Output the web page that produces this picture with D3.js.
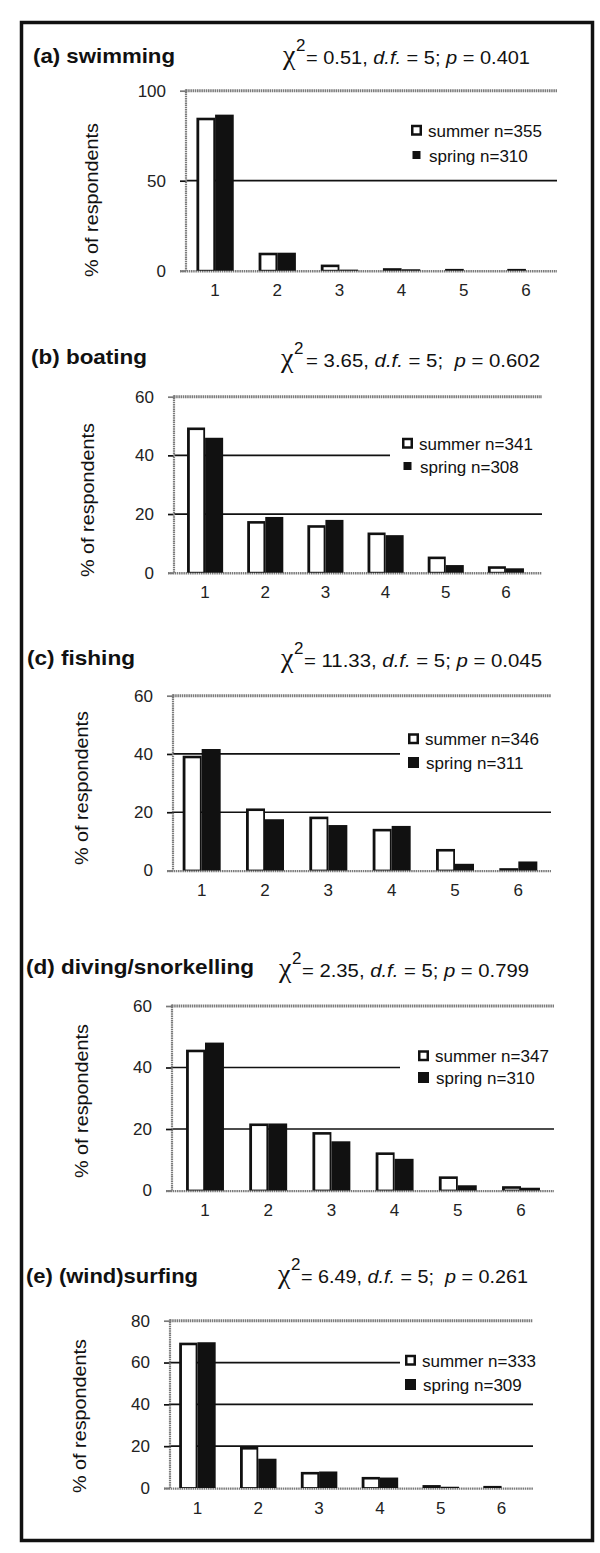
<!DOCTYPE html>
<html><head><meta charset="utf-8">
<script src="https://cdn.jsdelivr.net/npm/d3@7"></script>
<style>body{margin:0;background:#fff} svg{display:block}</style>
</head><body>
<script>
// ---------- data ----------
const categories = ["1","2","3","4","5","6"];
const panelTitles = ["(a) swimming","(b) boating","(c) fishing","(d) diving/snorkelling","(e) (wind)surfing"];
const chiValues = ["0.51","3.65","11.33","2.35","6.49"];
const pValues = ["0.401","0.602","0.045","0.799","0.261"];
const chiSeparators = ["; ",";  ","; ","; ",";  "];
const summerN = [355,341,346,347,333];
const springN = [310,308,311,310,309];

const swimmingSummer = [85, 10, 3.4, 1.4, 1.0, 1.0];
const swimmingSpring = [86.7, 10, 0.6, 0.8, 0, 0];
const boatingSummer  = [49.5, 17.6, 16.2, 13.7, 5.5, 2.2];
const boatingSpring  = [46, 19, 18, 12.8, 2.6, 1.5];
const fishingSummer  = [39.4, 21.3, 18.5, 14.3, 7.4, 0.8];
const fishingSpring  = [41.7, 17.6, 15.6, 15.3, 2.3, 3.1];
const divingSummer   = [45.8, 21.8, 19, 12.4, 4.6, 1.4];
const divingSpring   = [48.1, 21.8, 16, 10.3, 1.7, 0.9];
const surfingSummer  = [69.5, 19.6, 7.7, 5.3, 1.4, 1];
const surfingSpring  = [69.7, 14, 7.9, 5, 0.6, 0];

const yTicksA = [0,50,100];
const yTicksB = [0,20,40,60];
const yTicksC = [0,20,40,60];
const yTicksD = [0,20,40,60];
const yTicksE = [0,20,40,60,80];

const summerSeries = [swimmingSummer, boatingSummer, fishingSummer, divingSummer, surfingSummer];
const springSeries = [swimmingSpring, boatingSpring, fishingSpring, divingSpring, surfingSpring];
const yTickSets = [yTicksA, yTicksB, yTicksC, yTicksD, yTicksE];

// ---------- layout ----------
const layout = [
 {yTop:90.7, yBot:270.7, axisX:186, bandStart:184, bandEnd:557, lineEnd:557, titleX:33, titleY:62.5, titleW:142, chiX:283, chiY:64, restX:306, restW:224, ytX:98, ytY:200, legX:411, legY:[130.5,155], legBgX:400, springSq:8},
 {yTop:396.7, yBot:572.7, axisX:174, bandStart:175, bandEnd:536, lineEnd:542, titleX:31, titleY:364, titleW:116, chiX:281, chiY:366.5, restX:306, restW:234, ytX:94, ytY:500, legX:402, legY:[443.5,466], legBgX:390, springSq:8},
 {yTop:695.7, yBot:870.5, axisX:173, bandStart:170, bandEnd:550, lineEnd:551, titleX:27, titleY:665, titleW:108, chiX:281, chiY:666.5, restX:304, restW:238, ytX:88, ytY:788, legX:408, legY:[739,762.5], legBgX:400, springSq:11},
 {yTop:1006, yBot:1190.5, axisX:172, bandStart:173.4, bandEnd:552.6, lineEnd:554, titleX:26, titleY:974, titleW:228, chiX:279, chiY:976.5, restX:302, restW:227, ytX:88, ytY:1101, legX:418, legY:[1056,1077.5], legBgX:400, springSq:11},
 {yTop:1320.7, yBot:1488, axisX:170, bandStart:167, bandEnd:532, lineEnd:533, titleX:26, titleY:1283, titleW:172, chiX:278, chiY:1283, restX:301, restW:227, ytX:86, ytY:1416, legX:405, legY:[1360.5,1384.5], legBgX:400, springSq:11}
];

const SANS = "'Liberation Sans', Arial, Helvetica, sans-serif";
const GRAY = "#7a7a7a";

const svg = d3.select("body").append("svg")
  .attr("width",600).attr("height",1553)
  .style("font-family", SANS);

svg.append("rect").attr("x",0).attr("y",0).attr("width",600).attr("height",1553).attr("fill","#fff");

// outer frame
svg.append("rect").attr("x",21.5).attr("y",22.5).attr("width",571).attr("height",1518)
  .attr("fill","none").attr("stroke","#111").attr("stroke-width",3.5);

layout.forEach((L,i) => {
  const g = svg.append("g");
  const ticks = yTickSets[i];
  const maxV = d3.max(ticks);
  const y = d3.scaleLinear().domain([0,maxV]).range([L.yBot, L.yTop]);
  const x = d3.scaleBand().domain(categories).range([L.bandStart, L.bandEnd]).padding(0);
  const bw = x.bandwidth();
  const barW = bw*0.3;

  // title
  g.append("text").attr("x",L.titleX).attr("y",L.titleY)
    .attr("font-size",21).attr("font-weight","bold").attr("fill","#111")
    .attr("textLength",L.titleW).attr("lengthAdjust","spacingAndGlyphs")
    .text(panelTitles[i]);

  // chi-square text
  g.append("text").attr("x",L.chiX).attr("y",L.chiY)
    .attr("font-family","'Liberation Serif', 'DejaVu Serif', serif")
    .attr("font-size",28).attr("fill","#111").text("\u03C7");
  g.append("text").attr("x",L.chiX+13).attr("y",L.chiY-13)
    .attr("font-size",17).attr("fill","#111").text("2");
  const rest = g.append("text").attr("x",L.restX).attr("y",L.chiY)
    .attr("font-size",18).attr("fill","#111").style("white-space","pre")
    .attr("textLength",L.restW).attr("lengthAdjust","spacingAndGlyphs");
  rest.append("tspan").text("= " + chiValues[i] + ", ");
  rest.append("tspan").attr("font-style","italic").text("d.f.");
  rest.append("tspan").text(" = 5" + chiSeparators[i]);
  rest.append("tspan").attr("font-style","italic").text("p");
  rest.append("tspan").text(" = " + pValues[i]);

  // y-axis title
  g.append("text")
    .attr("transform",`translate(${L.ytX},${L.ytY}) rotate(-90)`)
    .attr("text-anchor","middle").attr("font-size",19).attr("fill","#111")
    .attr("textLength",154).attr("lengthAdjust","spacingAndGlyphs")
    .text("% of respondents");

  // y axis ticks & labels
  const yAxis = g.append("g").attr("transform",`translate(${L.axisX},0)`)
    .call(d3.axisLeft(y).tickValues(ticks).tickSize(6).tickPadding(14).tickFormat(d3.format("d")));
  yAxis.select(".domain").remove();
  yAxis.selectAll(".tick line")
    .attr("stroke", d => (d===0 || d===maxV) ? GRAY : "#111")
    .attr("stroke-width", 1.7);
  yAxis.selectAll(".tick text").attr("font-size",17).attr("font-family",SANS).attr("fill","#222");

  // gridlines (middle values)
  const mids = ticks.filter(t => t!==0 && t!==maxV);
  g.selectAll(".grid").data(mids).enter().append("line")
    .attr("x1",L.axisX).attr("x2",L.lineEnd)
    .attr("y1",d=>y(d)).attr("y2",d=>y(d))
    .attr("stroke","#111").attr("stroke-width",1.7);

  // top line (gray, hatched)
  g.append("line").attr("x1",L.axisX).attr("x2",L.lineEnd)
    .attr("y1",y(maxV)).attr("y2",y(maxV))
    .attr("stroke",GRAY).attr("stroke-width",3).attr("stroke-dasharray","1.5,0.7");

  // left axis line
  g.append("line").attr("x1",L.axisX).attr("x2",L.axisX)
    .attr("y1",y(maxV)-1.5).attr("y2",y(0))
    .attr("stroke",GRAY).attr("stroke-width",2.2).attr("stroke-dasharray","1.5,0.7");

  // baseline
  g.append("line").attr("x1",L.axisX-6).attr("x2",L.lineEnd)
    .attr("y1",y(0)+0.6).attr("y2",y(0)+0.6)
    .attr("stroke",GRAY).attr("stroke-width",2.4).attr("stroke-dasharray","1.5,0.7");

  // legend background (covers partial gridlines)
  g.append("rect").attr("x",L.legBgX).attr("y",L.legY[0]-9)
    .attr("width",L.lineEnd-L.legBgX+6).attr("height",L.legY[1]-L.legY[0]+18)
    .attr("fill","#fff");

  // bars
  const sData = summerSeries[i], pData = springSeries[i];
  const barsG = g.append("g");
  categories.forEach((c,k) => {
    const cx = x(c) + bw/2;
    const vs = sData[k], vp = pData[k];
    // summer: white bar with thick black border
    const hs = y(0) - y(vs);
    if (hs > 0) {
      barsG.append("rect").attr("x",cx-barW).attr("y",y(vs)).attr("width",barW).attr("height",hs).attr("fill","#111");
      const innerH = hs - 3.5;
      if (innerH > 0.3) {
        barsG.append("rect").attr("x",cx-barW+2.8).attr("y",y(vs)+2.6)
          .attr("width",barW-4.6).attr("height",innerH).attr("fill","#fff");
      }
    }
    // spring: black bar
    const hp = y(0) - y(vp);
    if (hp > 0) {
      barsG.append("rect").attr("x",cx).attr("y",y(vp)).attr("width",barW).attr("height",hp).attr("fill","#111");
    }
  });

  // x axis labels
  const xAxis = g.append("g").attr("transform",`translate(0,${y(0)})`)
    .call(d3.axisBottom(x).tickSize(0).tickPadding(13.5));
  xAxis.select(".domain").remove();
  xAxis.selectAll(".tick text").attr("font-size",17).attr("font-family",SANS).attr("fill","#222");

  // legend
  const lg = g.append("g");
  lg.append("rect").attr("x",L.legX+1.25).attr("y",L.legY[0]-4.5)
    .attr("width",8.5).attr("height",8.5).attr("fill","#fff").attr("stroke","#111").attr("stroke-width",2.5);
  lg.append("text").attr("x",L.legX+17).attr("y",L.legY[0]+6)
    .attr("font-size",17).attr("fill","#111").text("summer n=" + summerN[i]);
  const sq = L.springSq;
  lg.append("rect").attr("x",L.legX+5.5-sq/2).attr("y",L.legY[1]-sq/2)
    .attr("width",sq).attr("height",sq).attr("fill","#111");
  lg.append("text").attr("x",L.legX+18).attr("y",L.legY[1]+6.5)
    .attr("font-size",17).attr("fill","#111").text("spring n=" + springN[i]);
});
</script>
</body></html>
